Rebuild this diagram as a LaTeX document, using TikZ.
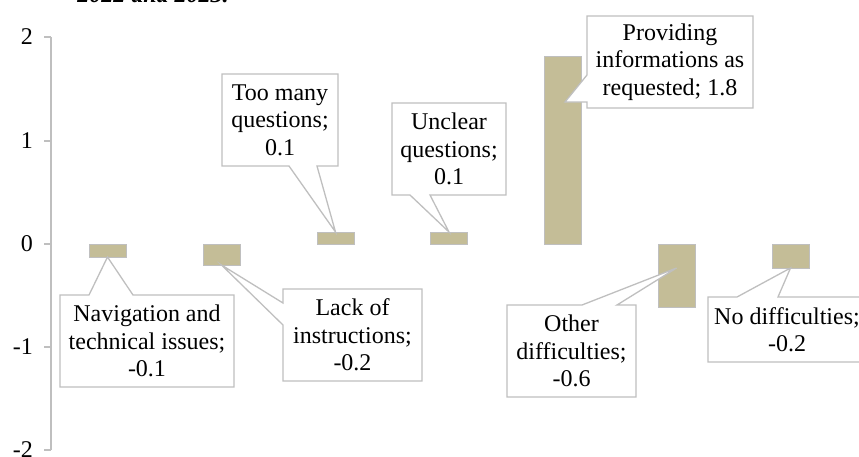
\documentclass[tikz,border=0pt]{standalone}
\usepackage{fontspec}
\setmainfont{Liberation Serif}
\usetikzlibrary{calc}
\pgfdeclarelayer{barlayer}
\pgfdeclarelayer{calloutlayer}
\pgfsetlayers{barlayer,calloutlayer,main}
\definecolor{bartan}{HTML}{C4BD97}
\definecolor{edgegray}{HTML}{BFBFBF}
\begin{document}
\begin{tikzpicture}[x=1pt,y=-1pt,
  barbox/.style={draw=edgegray, line width=0.8pt, fill=bartan, minimum width=37pt, inner sep=0pt, outer sep=0pt},
  lbl/.style={font=\fontsize{24}{27.5}\selectfont, align=center, inner sep=0pt, outer sep=0pt},
  callout/.style={draw=edgegray, line width=1.3pt, fill=white, line join=miter},
  axisline/.style={draw=edgegray, line width=1.5pt},
  ticklbl/.style={font=\fontsize{24}{27}\selectfont, anchor=east, inner sep=0pt}]
\useasboundingbox (0,0) rectangle (859,456);
\clip (0,0) rectangle (859,456);

% caption fragment
\node[font=\fontsize{24}{27}\selectfont\bfseries\itshape, anchor=base, inner sep=0pt] (cap) at (153,2.5) {2022 and 2023.};

% axis
\coordinate (axtop) at (51,37);
\coordinate (axbot) at (51,450);
\draw[axisline] (axtop) -- (axbot);
\foreach \v/\yy in {2/37,1/141,0/244,-1/347,-2/450}{
  \coordinate (tk\v) at (51,\yy);
  \draw[axisline] (tk\v) -- ++(-7,0);
  \node[ticklbl] (tl\v) at (33,\yy) {\v};
}

% bars
\begin{pgfonlayer}{barlayer}
\node[barbox, minimum height=13pt, anchor=north] (b1) at (107.5,244) {};
\node[barbox, minimum height=21pt, anchor=north] (b2) at (221.5,244) {};
\node[barbox, minimum height=12pt, anchor=south] (b3) at (335.5,244) {};
\node[barbox, minimum height=12pt, anchor=south] (b4) at (449,244) {};
\node[barbox, minimum height=188pt, anchor=south] (b5) at (562.5,244) {};
\node[barbox, minimum height=63pt, anchor=north] (b6) at (676.5,244) {};
\node[barbox, minimum height=24pt, anchor=north] (b7) at (790.5,244) {};
\end{pgfonlayer}

% callout texts
\node[lbl, minimum width=174pt, minimum height=92pt] (c1) at (147,341) {Navigation and\\technical issues;\\-0.1};
\node[lbl, minimum width=139pt, minimum height=92pt] (c2) at (352.5,335) {Lack of\\instructions;\\-0.2};
\node[lbl, minimum width=116pt, minimum height=92pt] (c3) at (280,120) {Too many\\questions;\\0.1};
\node[lbl, minimum width=114pt, minimum height=92pt] (c4) at (449,149) {Unclear\\questions;\\0.1};
\node[lbl, minimum width=166pt, minimum height=92pt] (c5) at (670,62) {Providing\\informations as\\requested; 1.8};
\node[lbl, minimum width=129pt, minimum height=92pt] (c6) at (571.5,351) {Other\\difficulties;\\-0.6};
\node[lbl, minimum width=158pt, minimum height=65pt] (c7) at (787,329.5) {No difficulties;\\-0.2};

% callout shapes
\begin{pgfonlayer}{calloutlayer}
\draw[callout] (c1.north west) -- ([xshift=29pt]c1.north west) -- (b1.south) -- ([xshift=73pt]c1.north west)
  -- (c1.north east) -- (c1.south east) -- (c1.south west) -- cycle;
\draw[callout] (c2.north west) -- (c2.north east) -- (c2.south east) -- (c2.south west)
  -- ([yshift=-36pt]c2.north west) -- (b2.south) -- ([yshift=-14pt]c2.north west) -- cycle;
\draw[callout] (c3.north west) -- (c3.north east) -- (c3.south east) -- ([xshift=95pt]c3.south west)
  -- (b3.north) -- ([xshift=67pt]c3.south west) -- (c3.south west) -- cycle;
\draw[callout] (c4.north west) -- (c4.north east) -- (c4.south east) -- ([xshift=38pt]c4.south west)
  -- (b4.north) -- ([xshift=18pt]c4.south west) -- (c4.south west) -- cycle;
\coordinate (tip5) at ([xshift=2.5pt,yshift=-46pt]b5.north);
\draw[callout] (c5.north west) -- (c5.north east) -- (c5.south east) -- (c5.south west)
  -- ([yshift=-86pt]c5.north west) -- (tip5) -- ([yshift=-59pt]c5.north west) -- cycle;
\coordinate (tip6) at ([yshift=-24pt]b6.north);
\draw[callout] (c6.north west) -- ([xshift=75pt]c6.north west) -- (tip6) -- ([xshift=110pt]c6.north west)
  -- (c6.north east) -- (c6.south east) -- (c6.south west) -- cycle;
\draw[callout] (c7.north west) -- ([xshift=29pt]c7.north west) -- (b7.south) -- ([xshift=70pt]c7.north west)
  -- (c7.north east) -- (c7.south east) -- (c7.south west) -- cycle;
\end{pgfonlayer}
\end{tikzpicture}
\end{document}
